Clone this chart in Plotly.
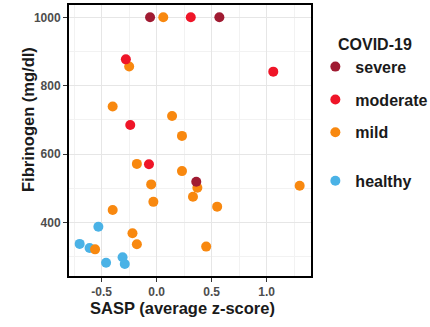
import plotly.graph_objects as go

# SASP (average z-score) and fibrinogen (mg/dl) per patient group
severe_x = [-0.06, 0.57, 0.36]
severe_y = [1000, 1000, 519]

moderate_x = [0.31, -0.28, 1.06, -0.24, -0.07]
moderate_y = [1000, 877, 841, 685, 570]

mild_x = [0.06, -0.25, -0.40, 0.14, 0.23, -0.18, 0.23, -0.05, 0.37, 1.30,
          0.33, -0.03, 0.55, -0.40, -0.22, -0.18, -0.56, 0.45]
mild_y = [1000, 856, 739, 711, 653, 571, 550, 511, 501, 507,
          475, 460, 446, 436, 368, 336, 321, 329]

healthy_x = [-0.53, -0.70, -0.61, -0.46, -0.31, -0.29]
healthy_y = [387, 337, 325, 282, 298, 278]

x_ticks = [-0.5, 0.0, 0.5, 1.0]
x_tick_labels = ["-0.5", "0.0", "0.5", "1.0"]
y_ticks = [400, 600, 800, 1000]

FONT = "Liberation Sans, Arial, sans-serif"
COLORS = {
    "severe": "#A01B32",
    "moderate": "#EF1528",
    "mild": "#F8880F",
    "healthy": "#4AB2E6",
}
RANK = {"severe": 1, "moderate": 2, "mild": 3, "healthy": 4}

groups = [
    ("healthy", healthy_x, healthy_y, "legend2"),
    ("mild", mild_x, mild_y, "legend"),
    ("moderate", moderate_x, moderate_y, "legend"),
    ("severe", severe_x, severe_y, "legend"),
]

fig = go.Figure()
# healthy drawn first so COVID-19 points sit on top
for name, xs, ys, leg in groups:
    fig.add_trace(go.Scatter(
        x=xs, y=ys, mode="markers", name=name,
        legend=leg, legendgroup=name, legendrank=RANK[name],
        marker=dict(color=COLORS[name], size=10, line=dict(width=0)),
        showlegend=True,
    ))

axis_common = dict(
    showline=True, mirror=True, linecolor="black", linewidth=2,
    showgrid=True, gridcolor="#E6E6E6", gridwidth=1,
    ticks="outside", ticklen=4, tickcolor="#333333", tickwidth=1,
    tickfont=dict(family=FONT, size=12, color="#4D4D4D", weight="bold"),
    zeroline=False,
)

fig.update_xaxes(
    range=[-0.797, 1.403], tickvals=x_ticks, ticktext=x_tick_labels,
    minor=dict(dtick=0.25, tick0=0, showgrid=True, gridcolor="#F2F2F2", gridwidth=0.6),
    **axis_common,
)
fig.update_yaxes(
    range=[243, 1036], tickvals=y_ticks,
    minor=dict(dtick=100, tick0=0, showgrid=True, gridcolor="#F2F2F2", gridwidth=0.6),
    **axis_common,
)

legend_font = dict(family=FONT, size=16, color="#1A1A1A", weight="bold")

fig.update_layout(
    width=430, height=327,
    margin=dict(l=69, r=119, t=5, b=51, autoexpand=False),
    plot_bgcolor="white", paper_bgcolor="white",
    legend=dict(
        x=1.018, xanchor="left", y=0.835, yanchor="top",
        font=legend_font, traceorder="grouped", tracegroupgap=9,
        itemclick=False, bgcolor="rgba(0,0,0,0)",
    ),
    legend2=dict(
        x=1.018, xanchor="left", y=0.414, yanchor="top",
        font=legend_font, bgcolor="rgba(0,0,0,0)",
    ),
    annotations=[
        dict(text="COVID-19", xref="paper", yref="paper", x=1.105, y=0.855,
             xanchor="left", yanchor="middle", showarrow=False,
             font=dict(family=FONT, size=16, color="#1A1A1A", weight="bold")),
        dict(text="SASP (average z-score)", xref="paper", yref="paper",
             x=0.471, y=-0.118, xanchor="center", yanchor="middle", showarrow=False,
             font=dict(family=FONT, size=16.5, color="#1A1A1A", weight="bold")),
        dict(text="Fibrinogen (mg/dl)", xref="paper", yref="paper",
             x=-0.169, y=0.576, xanchor="center", yanchor="middle", showarrow=False,
             textangle=-90,
             font=dict(family=FONT, size=16.5, color="#1A1A1A", weight="bold")),
    ],
)

fig.write_html("out.html")
